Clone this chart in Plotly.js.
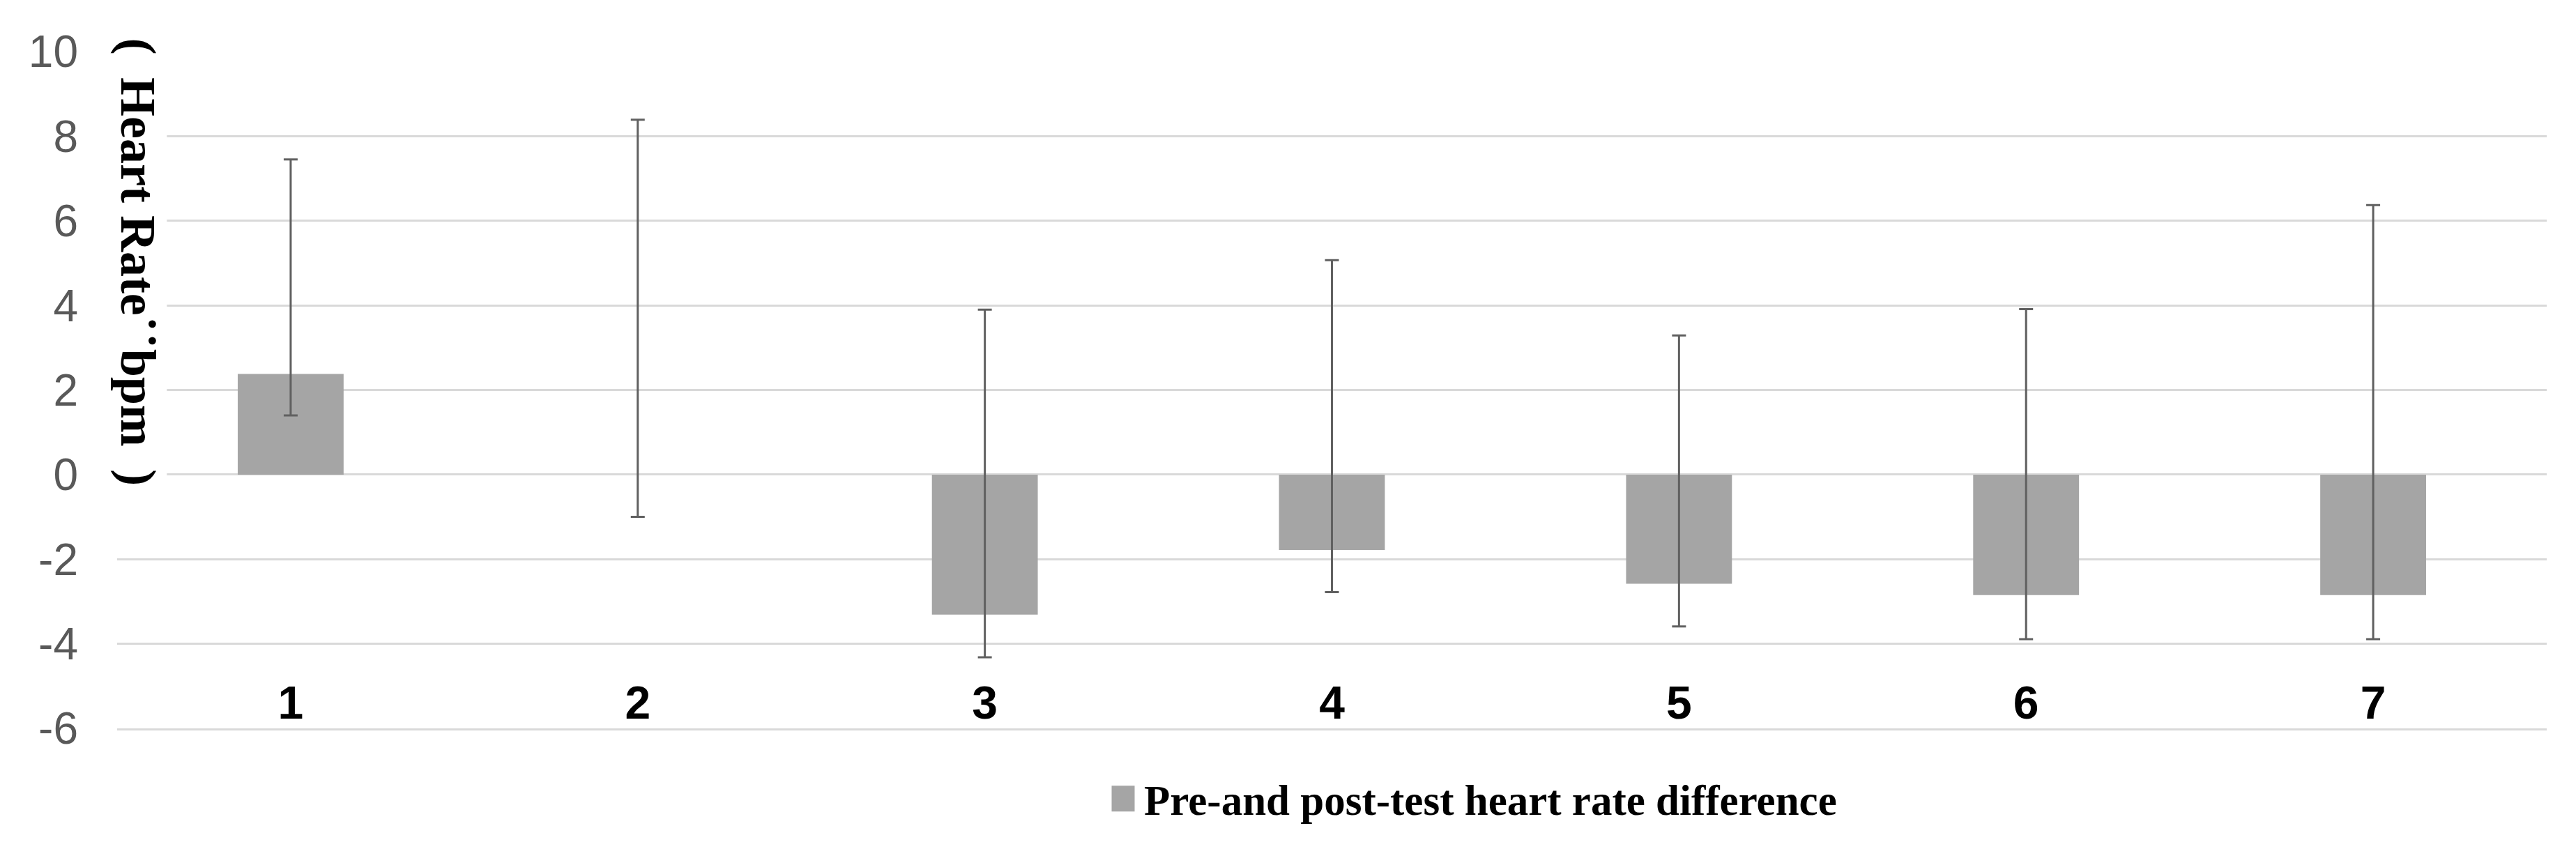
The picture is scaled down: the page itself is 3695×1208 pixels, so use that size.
<!DOCTYPE html>
<html>
<head>
<meta charset="utf-8">
<script src="https://cdn.plot.ly/plotly-3.0.1.min.js"></script>
<style>
  html, body { margin: 0; padding: 0; background: #fff; }
  #chart { width: 3695px; height: 1208px; }
</style>
</head>
<body>
<div id="chart"></div>
<script>
// groups on the x axis
var groups = ['1', '2', '3', '4', '5', '6', '7'];

// pre/post heart rate difference (bpm)
var hrDiff = [2.38, 0, -3.31, -1.78, -2.58, -2.85, -2.85];

// error bars, up and down from the bar end
var errUp = [5.07, 8.39, 7.21, 6.85, 5.87, 6.76, 9.22];
var errDown = [0.98, 1.0, 1.01, 1.0, 1.01, 1.04, 1.04];

// y axis ticks (hyphen minus like the original)
var yTickVals = [-6, -4, -2, 0, 2, 4, 6, 8, 10];
var yTickText = ['-6', '-4', '-2', '0', '2', '4', '6', '8', '10'];

var seriesName = 'Pre-and post-test heart rate difference';
var yTitle = '(\u2009 Heart Rate\u02D9\u02D9bpm \u2009)';

var gridGray = '#d9d9d9';

var data = [
  {
    x: groups,
    y: hrDiff,
    type: 'bar',
    name: seriesName,
    marker: {
      color: '#a5a5a5'
    },
    error_y: {
      type: 'data',
      symmetric: false,
      array: errUp,
      arrayminus: errDown,
      color: '#606060',
      thickness: 3,
      width: 10
    }
  }
];

var layout = {
  width: 3695,
  height: 1208,
  paper_bgcolor: '#ffffff',
  plot_bgcolor: '#ffffff',
  margin: {
    t: 74,
    r: 42,
    b: 163,
    l: 168,
    pad: 0
  },
  bargap: 0.695,
  showlegend: true,
  legend: {
    orientation: 'h',
    x: 0.4089,
    xanchor: 'left',
    y: -0.104,
    yanchor: 'middle',
    itemwidth: 38,
    font: {
      family: 'Liberation Serif, Times New Roman, serif',
      size: 61,
      color: '#000000',
      weight: 'bold'
    }
  },
  xaxis: {
    type: 'category',
    showgrid: false,
    showline: true,
    linecolor: gridGray,
    linewidth: 3,
    ticks: '',
    ticklabelstandoff: -96,
    tickfont: {
      family: 'Liberation Sans, Arial, sans-serif',
      size: 66,
      color: '#000000',
      weight: 'bold'
    }
  },
  yaxis: {
    range: [-6, 10],
    tickvals: yTickVals,
    ticktext: yTickText,
    ticks: '',
    ticklabelstandoff: 55,
    showline: false,
    gridcolor: gridGray,
    gridwidth: 3,
    zeroline: true,
    zerolinecolor: gridGray,
    zerolinewidth: 3,
    tickfont: {
      family: 'Liberation Sans, Arial, sans-serif',
      size: 64,
      color: '#595959'
    }
  },
  annotations: [
    {
      text: yTitle,
      xref: 'paper',
      yref: 'y',
      x: 0.0085,
      y: 5.02,
      xanchor: 'center',
      yanchor: 'middle',
      textangle: 90,
      showarrow: false,
      bgcolor: '#ffffff',
      font: {
        family: 'Liberation Serif, Times New Roman, serif',
        size: 72,
        color: '#000000',
        weight: 'bold'
      }
    }
  ]
};

Plotly.newPlot('chart', data, layout, {staticPlot: true}).then(function() {
  // the swatch in the original legend is as tall as the text
  document.querySelectorAll('.legend .scrollbox').forEach(function(s) {
    s.removeAttribute('clip-path');
  });
  document.querySelectorAll('.legend .legendpoints path').forEach(function(p) {
    p.setAttribute('d', 'M34.5,18.5H1.5V-18.5H34.5Z');
    p.removeAttribute('transform');
  });
});
</script>
</body>
</html>
